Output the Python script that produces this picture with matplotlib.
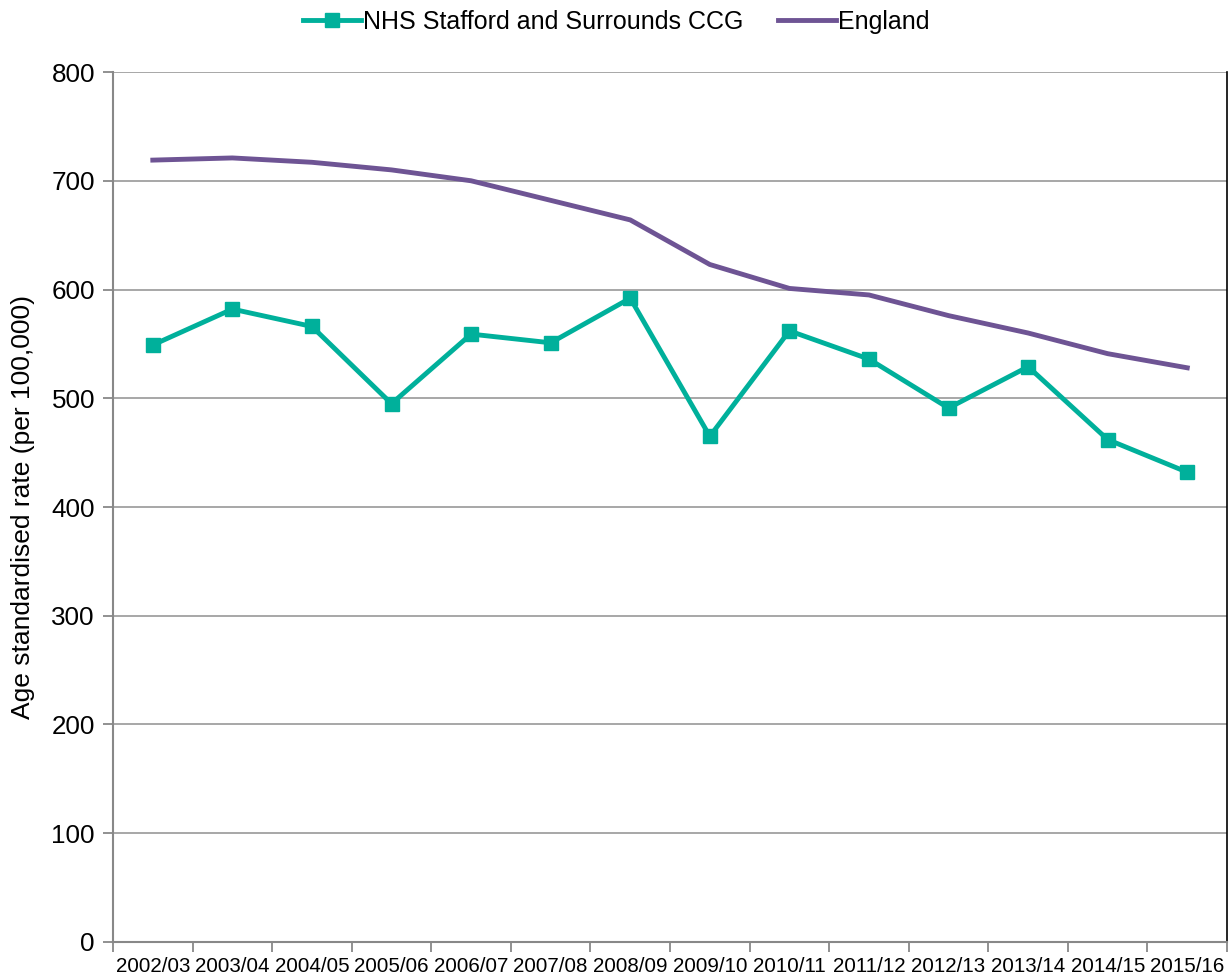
import matplotlib
matplotlib.use("Agg")
import matplotlib.pyplot as plt
import numpy as np

plt.rcParams['font.family'] = ['Liberation Sans', 'DejaVu Sans']

years = ["2002/03", "2003/04", "2004/05", "2005/06", "2006/07", "2007/08", "2008/09",
         "2009/10", "2010/11", "2011/12", "2012/13", "2013/14", "2014/15", "2015/16"]
ccg = [549, 582, 566, 495, 559, 551, 592, 465, 562, 536, 491, 529, 462, 432]
england = [719, 721, 717, 710, 700, 682, 664, 623, 601, 595, 576, 560, 541, 528]

fig = plt.figure(figsize=(12.31, 9.80), dpi=100)
ax = fig.add_axes([0.0918, 0.0388, 0.905, 0.8877])

x = np.arange(len(years))
ax.plot(x, ccg, color="#00b09b", lw=3.5, marker="s", markersize=10,
        label="NHS Stafford and Surrounds CCG")
ax.plot(x, england, color="#6e5494", lw=3.5, label="England")

ax.set_xlim(-0.5, len(years) - 0.5)
ax.set_ylim(0, 800)
ax.set_yticks(range(0, 801, 100))
ax.yaxis.grid(True, color="#a0a0a0", lw=1.3)
ax.set_axisbelow(True)

# category labels centred, tick marks on the boundaries
ax.set_xticks(x)
ax.set_xticklabels(years, fontsize=14.8)
ax.tick_params(axis="x", length=0, pad=11)
ax.set_xticks(np.arange(-0.5, len(years)), minor=True)
ax.tick_params(axis="x", which="minor", length=7, width=1.3, color="#888888", direction="out")
ax.tick_params(axis="y", labelsize=18.7, length=7, width=1.3, color="#888888", pad=6)

for s in ["left", "bottom"]:
    ax.spines[s].set_color("#888888")
    ax.spines[s].set_linewidth(1.5)
ax.spines["top"].set_visible(False)
ax.spines["right"].set_color("#000000")
ax.spines["right"].set_linewidth(1.2)

ax.set_ylabel("Age standardised rate (per 100,000)", fontsize=19, labelpad=12)

ax.legend(loc="upper center", bbox_to_anchor=(0.452, 1.097), ncol=2, frameon=False,
          fontsize=18, handlelength=2.3, columnspacing=1.4, handletextpad=0.1)

fig.savefig("out.png", dpi=100)
